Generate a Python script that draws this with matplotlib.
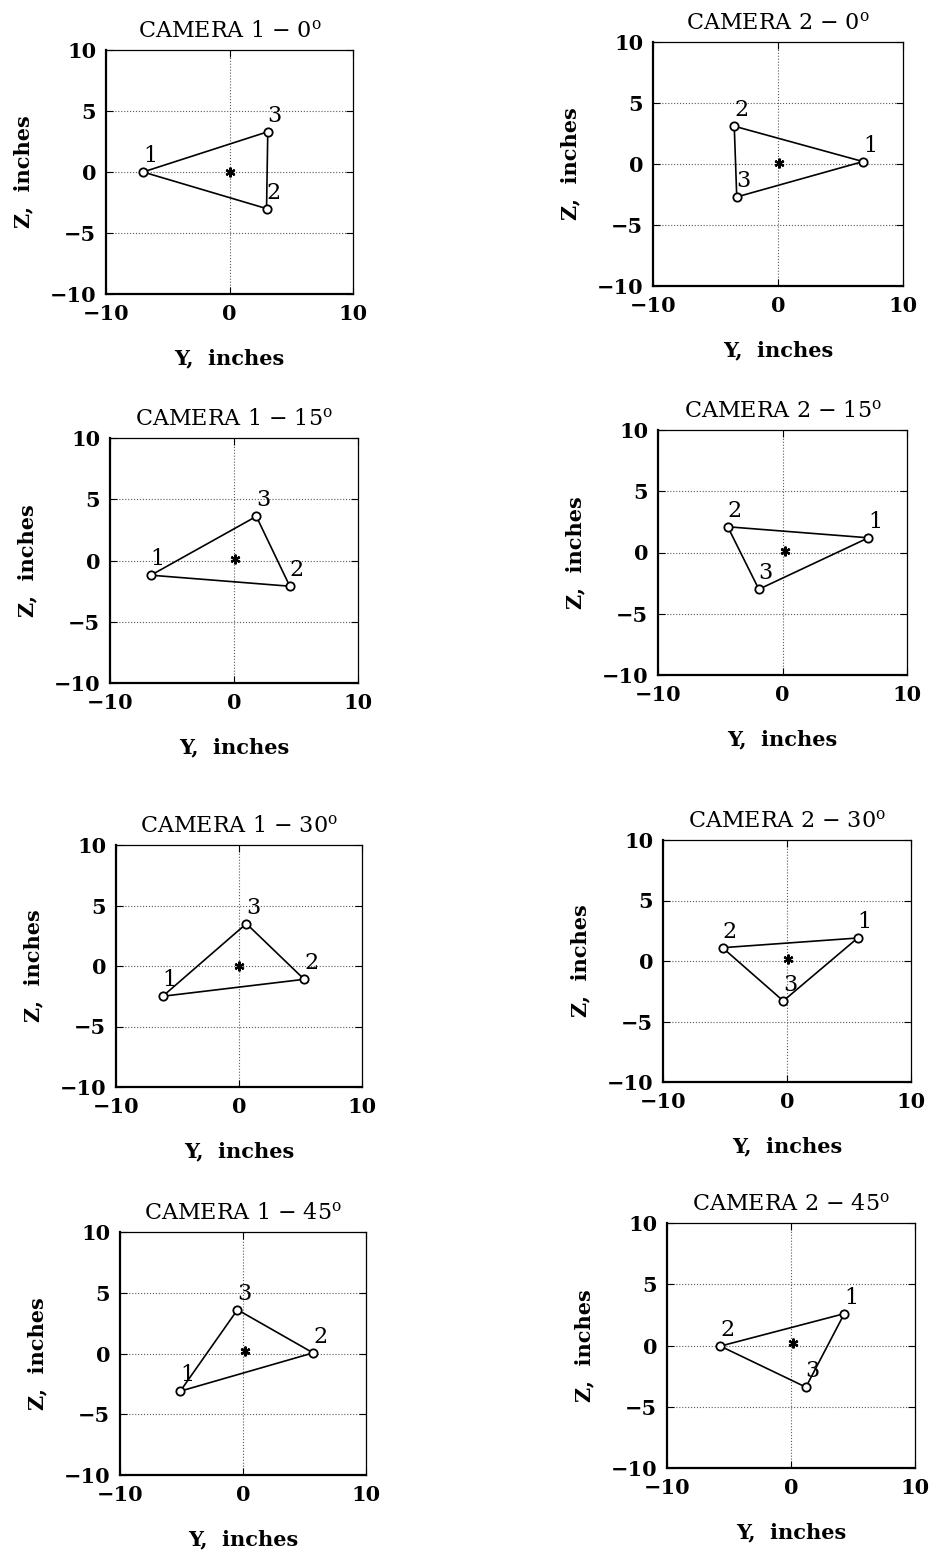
import matplotlib
matplotlib.use("Agg")
import matplotlib.pyplot as plt

plt.rcParams['font.family'] = ['DejaVu Serif']
plt.rcParams['mathtext.fontset'] = 'dejavuserif'

# view angles and target point coordinates (inches) seen by each camera
angles = [0, 15, 30, 45]
point_labels = ['1', '2', '3']

cam1_y = [[-7.0, 3.0, 3.1], [-6.7, 4.5, 1.8], [-6.2, 5.3, 0.6], [-5.1, 5.7, -0.45]]
cam1_z = [[0.0, -3.0, 3.3], [-1.2, -2.1, 3.6], [-2.5, -1.1, 3.5], [-3.1, 0.05, 3.6]]
cam1_cy = [0.0, 0.1, 0.0, 0.2]
cam1_cz = [0.0, 0.1, 0.0, 0.2]

cam2_y = [[6.8, -3.5, -3.3], [6.9, -4.4, -1.9], [5.7, -5.2, -0.3], [4.3, -5.7, 1.2]]
cam2_z = [[0.2, 3.1, -2.7], [1.2, 2.1, -3.0], [1.9, 1.1, -3.3], [2.6, -0.05, -3.4]]
cam2_cy = [0.1, 0.2, 0.1, 0.2]
cam2_cz = [0.1, 0.15, 0.15, 0.2]

# axes boxes in pixels: left, top, right, bottom
W, H = 933, 1558
boxes1 = [(106, 50, 353, 294), (110, 438, 358, 683), (116, 845, 362, 1087), (120, 1232, 366, 1475)]
boxes2 = [(653, 42, 903, 286), (658, 430, 907, 675), (663, 840, 911, 1082), (667, 1223, 915, 1468)]

fig = plt.figure(figsize=(W / 100, H / 100), dpi=100)


def panel(box, cam, ang, ys, zs, cy, cz):
    l, t, r, b = box
    ax = fig.add_axes([l / W, 1 - b / H, (r - l) / W, (b - t) / H])
    ax.set_xlim(-10, 10)
    ax.set_ylim(-10, 10)
    ax.set_xticks([-10, 0, 10])
    ax.set_yticks([-10, -5, 0, 5, 10])
    for v in [-5, 0, 5]:
        ax.axhline(v, color='0.35', ls=':', lw=0.8, zorder=0)
    ax.axvline(0, color='0.35', ls=':', lw=0.8, zorder=0)
    ax.tick_params(direction='in', top=True, right=True, length=5,
                   labelsize=15, pad=7)
    for lab in ax.get_xticklabels() + ax.get_yticklabels():
        lab.set_fontweight('bold')
    for s in ['left', 'bottom']:
        ax.spines[s].set_linewidth(1.6)
    for s in ['top', 'right']:
        ax.spines[s].set_linewidth(0.9)

    ax.plot(ys + ys[:1], zs + zs[:1], color='black', lw=1.2)
    ax.plot(ys, zs, 'o', mfc='white', mec='black', ms=6, mew=1.3)
    ax.plot([cy], [cz], marker=(6, 2, 0), color='black', ms=7, mew=1.6)
    for y, z, s in zip(ys, zs, point_labels):
        ax.annotate(s, (y, z), xytext=(5, 11.5), textcoords='offset points',
                    ha='center', va='center', fontsize=16)

    ax.set_title('CAMERA %d $-$ %d$^{\\rm o}$' % (cam, ang), fontsize=16, pad=9)
    ax.set_xlabel('Y,  inches', fontsize=15, fontweight='bold', labelpad=18)
    ax.set_ylabel('Z,  inches', fontsize=15, fontweight='bold', labelpad=12)
    return ax


for i, ang in enumerate(angles):
    panel(boxes1[i], 1, ang, cam1_y[i], cam1_z[i], cam1_cy[i], cam1_cz[i])
    panel(boxes2[i], 2, ang, cam2_y[i], cam2_z[i], cam2_cy[i], cam2_cz[i])

fig.savefig('out.png', dpi=100)
